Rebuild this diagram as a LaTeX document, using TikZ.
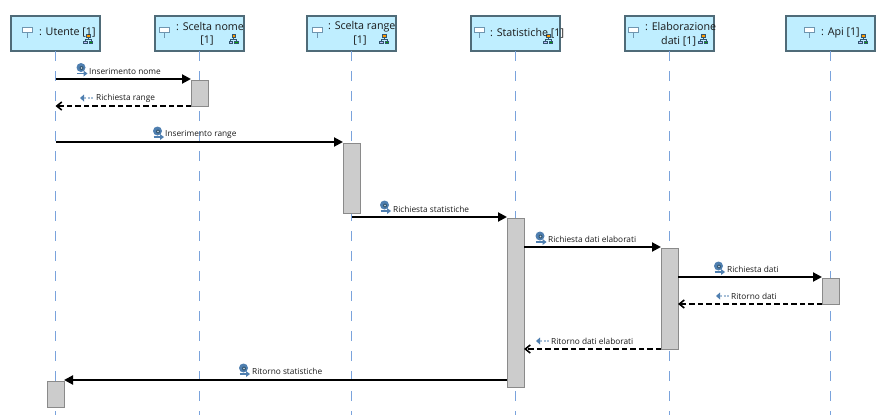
\documentclass[tikz,border=0pt]{standalone}
\usepackage{fontspec}
\setmainfont{Open Sans}
\usetikzlibrary{arrows.meta,calc}
\definecolor{boxfill}{HTML}{BFEEFF}
\definecolor{boxline}{HTML}{4F6B78}
\definecolor{pinline}{HTML}{6F96B0}
\definecolor{lifecol}{HTML}{7AA3DC}
\definecolor{actfill}{HTML}{CCCCCC}
\definecolor{actline}{HTML}{8A8A8A}
\definecolor{iconblue}{HTML}{4F7FB0}
\definecolor{icondark}{HTML}{33566F}
\tikzset{
  x=1pt,y=-1pt,
  lifebox/.style={draw=boxline,fill=boxfill,line width=1.2pt,minimum width=89pt,minimum height=35pt,inner sep=0pt,outer sep=0pt},
  headtext/.style={font=\fontsize{10.7}{12}\selectfont,text=black!90,inner sep=0pt,anchor=west},
  msgtext/.style={font=\fontsize{8.3}{9}\selectfont,text=black!90,inner sep=0pt,anchor=west},
  actbox/.style={draw=actline,fill=actfill,line width=1pt,minimum width=17pt,inner sep=0pt,outer sep=0pt},
  lifeline/.style={draw=lifecol,line width=1pt,dash pattern=on 10pt off 10pt},
  syncmsg/.style={draw=black,line width=2pt,-{Triangle[length=9pt,width=9pt]}},
  retmsg/.style={draw=black,line width=2pt,dash pattern=on 5.5pt off 3pt,-{Straight Barb[length=5pt,width=8pt,line width=1.6pt]}},
  pics/pin/.style={code={
    \draw[draw=pinline,fill=white,line width=1pt] (-5,-3) rectangle (5,2);
    \draw[draw=pinline,line width=1pt] (0,2) -- (0,8);
  }},
  pics/tree/.style={code={
    \draw[draw=icondark,line width=.5pt] (0,-1) -- (0,1) (-2.8,3) -- (-2.8,1) -- (2.8,1) -- (2.8,3);
    \filldraw[draw=icondark,fill=orange!80!yellow,line width=.4pt] (-1.8,-3.5) rectangle (1.8,-1);
    \filldraw[draw=icondark,fill=blue!25!white,line width=.4pt] (-4.5,3) rectangle (-1,5.5);
    \filldraw[draw=icondark,fill=green!65!black,line width=.4pt] (1,3) rectangle (4.5,5.5);
  }},
  pics/callicon/.style={code={
    \fill[iconblue] (0,0) circle (4.5);
    \fill[icondark] (0.5,0.5) circle (2);
    \fill[white!70!iconblue] (0.5,0.5) circle (0.8);
    \draw[iconblue,line width=1.4pt] (-4,6) -- (3,6);
    \fill[iconblue] (2.5,3) -- (6.5,6) -- (2.5,9) -- cycle;
  }},
  pics/reticon/.style={code={
    \fill[iconblue] (0,0) -- (4,-3.5) -- (4,3.5) -- cycle;
    \draw[iconblue!50!white,line width=1.2pt,dash pattern=on 2pt off 1.5pt] (4,0) -- (13,0);
  }},
}
\begin{document}
\begin{tikzpicture}
\useasboundingbox (0,0) rectangle (889,415);
% lifeline heads
\node[lifebox] (h1) at (55.5,33.5) {};
\node[lifebox] (h2) at (199.5,33.5) {};
\node[lifebox] (h3) at (351.5,33.5) {};
\node[lifebox] (h4) at (515.5,33.5) {};
\node[lifebox] (h5) at (669.5,33.5) {};
\node[lifebox] (h6) at (830.5,33.5) {};
\coordinate (e1) at (55.5,415);
\coordinate (e2) at (199.5,415);
\coordinate (e3) at (351.5,415);
\coordinate (e4) at (515.5,415);
\coordinate (e5) at (669.5,415);
\coordinate (e6) at (830.5,415);
\foreach \i in {1,...,6} \draw[lifeline] (h\i.south) -- (e\i);
% activations
\node[actbox,minimum height=26pt] (a1) at (199.5,93) {};
\node[actbox,minimum height=70pt] (a2) at (351.5,178) {};
\node[actbox,minimum height=169pt] (a3) at (515.5,302.5) {};
\node[actbox,minimum height=101pt] (a4) at (669.5,298.5) {};
\node[actbox,minimum height=26pt] (a5) at (830.5,291) {};
\node[actbox,minimum height=26pt] (a6) at (55.5,394) {};
% head icons
\pic at (27,30) {pin};
\pic at (164,30) {pin};
\pic at (317,30) {pin};
\pic at (479,30) {pin};
\pic at (633,30) {pin};
\pic at (809,30) {pin};
\pic at (88,38) {tree};
\pic at (233.5,38) {tree};
\pic at (384,38) {tree};
\pic at (548,38) {tree};
\pic at (703,38) {tree};
\pic at (863,38) {tree};
% head texts
\node[headtext] (t1) at (39,33) {: Utente [1]};
\node[headtext] (t2a) at (176,27) {: Scelta nome};
\node[headtext,anchor=center] (t2b) at (207,41) {[1]};
\node[headtext] (t3a) at (328,27) {: Scelta range};
\node[headtext,anchor=center] (t3b) at (360,41) {[1]};
\node[headtext] (t4) at (490,33) {: Statistiche [1]};
\node[headtext] (t5a) at (645,27) {: Elaborazione};
\node[headtext] (t5b) at (661,41) {dati [1]};
\node[headtext] (t6) at (821,33) {: Api [1]};
% messages
\draw[syncmsg] (h1.south |- 0,79) -- (a1.west |- 0,79);
\draw[retmsg] (a1.west |- 0,106) -- (h1.south |- 0,106);
\draw[syncmsg] (h1.south |- 0,142) -- (a2.west |- 0,142);
\draw[syncmsg] (h3.south |- 0,217) -- (a3.west |- 0,217);
\draw[syncmsg] (a3.east |- 0,247) -- (a4.west |- 0,247);
\draw[syncmsg] (a4.east |- 0,277) -- (a5.west |- 0,277);
\draw[retmsg] (a5.west |- 0,304) -- (a4.east |- 0,304);
\draw[retmsg] (a4.west |- 0,349) -- (a3.east |- 0,349);
\draw[syncmsg] (a3.west |- 0,380) -- (a6.east |- 0,380);
% message labels
\node[msgtext] (m1) at (89,71.5) {Inserimento nome};
\node[msgtext] (m2) at (96,98.5) {Richiesta range};
\node[msgtext] (m3) at (165,134) {Inserimento range};
\node[msgtext] (m4) at (393,209) {Richiesta statistiche};
\node[msgtext] (m5) at (548,239.5) {Richiesta dati elaborati};
\node[msgtext] (m6) at (727,269.5) {Richiesta dati};
\node[msgtext] (m7) at (731,296.5) {Ritorno dati};
\node[msgtext] (m8) at (551,341.5) {Ritorno dati elaborati};
\node[msgtext] (m9) at (252,371.5) {Ritorno statistiche};
% message icons
\pic at (81,67.5) {callicon};
\pic at (157.5,131) {callicon};
\pic at (384.5,205) {callicon};
\pic at (540,236) {callicon};
\pic at (718.5,266) {callicon};
\pic at (243.5,368) {callicon};
\pic at (80,98) {reticon};
\pic at (716,296) {reticon};
\pic at (536,341) {reticon};
\end{tikzpicture}
\end{document}
